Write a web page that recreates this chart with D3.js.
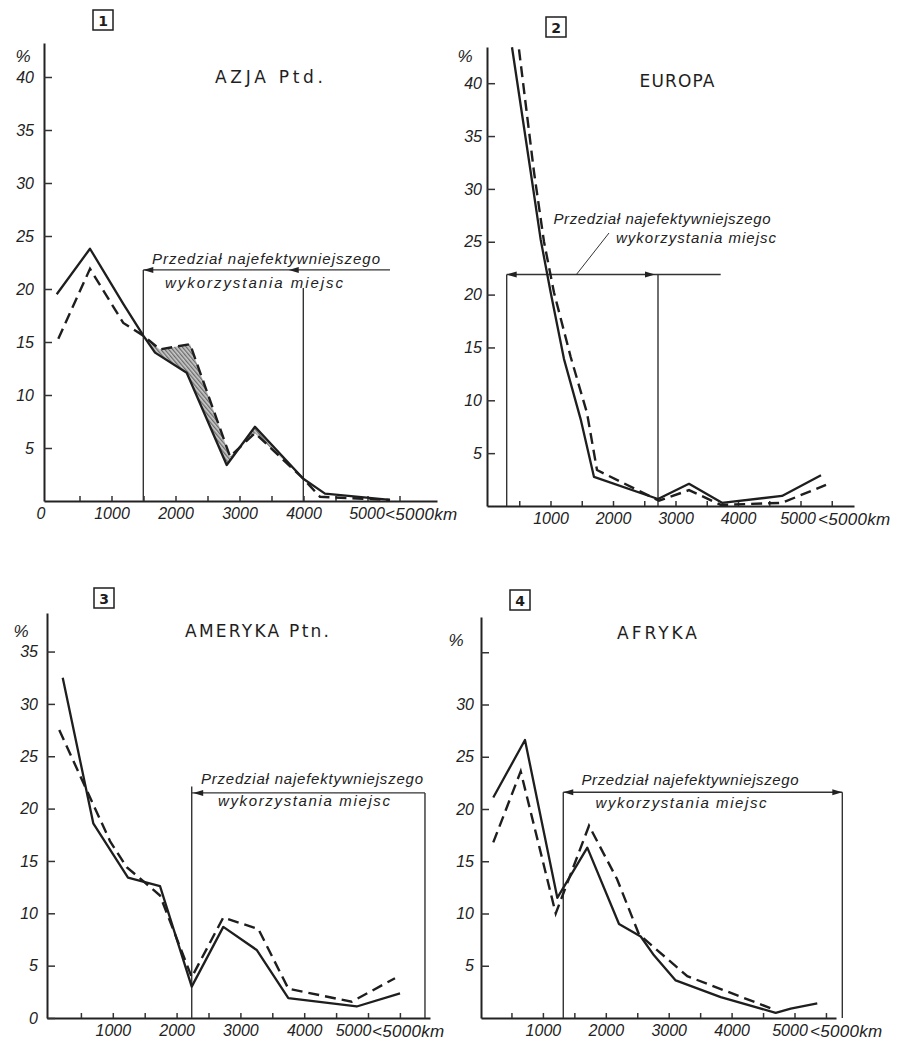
<!DOCTYPE html>
<html>
<head>
<meta charset="utf-8">
<script src="https://cdn.jsdelivr.net/npm/d3@7"></script>
<style>
  body { margin: 0; background: #fff; }
  svg { display: block; }
  .tick text { font-family: "Liberation Sans", Arial, sans-serif; font-style: italic; font-size: 16px; fill: #222; }
  .axis path.domain { stroke: #222; stroke-width: 2; }
  .axis .tick line { stroke: #333; stroke-width: 1.5; }
</style>
</head>
<body>
<div id="chart-area"></div>
<script>
// ---- DATA
var titles = ["AZJA Ptd.", "EUROPA", "AMERYKA Ptn.", "AFRYKA"];
var panelNumbers = ["1", "2", "3", "4"];
var noteLines = ["Przedział najefektywniejszego", "wykorzystania miejsc"];
var xTickKm = [500, 1000, 1500, 2000, 2500, 3000, 3500, 4000, 4500, 5000, 5500];
var xLabelKm = [1000, 2000, 3000, 4000, 5000];
var lastLabel = "<5000km";
var yTicks40 = [5, 10, 15, 20, 25, 30, 35, 40];
var yTicks35 = [0, 5, 10, 15, 20, 25, 30, 35];
var yTicksAfr = [5, 10, 15, 20, 25, 30, 35];

// 1 AZJA Ptd.
var azjaSolidKm  = [144, 664, 1184, 1497, 1680, 2175, 2800, 3242, 3997, 4336, 5352];
var azjaSolidPct = [19.5, 23.8, 18.6, 15.6, 14.0, 12.1, 3.4, 7.0, 2.1, 0.7, 0.1];
var azjaDashKm   = [169, 664, 1184, 1497, 1758, 2227, 2852, 3242, 3997, 4258, 5352];
var azjaDashPct  = [15.3, 21.9, 16.8, 15.6, 14.3, 14.8, 4.2, 6.4, 2.1, 0.4, 0.1];
var azjaInterval = [1497, 3997];

// 2 EUROPA
var eurSolidKm  = [384, 683, 843, 1003, 1216, 1483, 1696, 2720, 3216, 3744, 4704, 5328];
var eurSolidPct = [43.4, 31.6, 25.2, 20.2, 13.9, 8.2, 2.75, 0.66, 2.1, 0.3, 0.95, 2.9];
var eurDashKm   = [496, 736, 896, 1056, 1323, 1584, 1744, 2736, 3216, 3728, 4704, 5408];
var eurDashPct  = [43.2, 31.6, 25.0, 20.2, 14.1, 8.8, 3.4, 0.5, 1.5, 0.1, 0.3, 2.0];
var eurInterval = [299, 2720];

// 3 AMERYKA Ptn.
var amSolidKm  = [215, 694, 1238, 1740, 2237, 2732, 3255, 3751, 4823, 5502];
var amSolidPct = [32.5, 18.6, 13.4, 12.6, 3.0, 8.7, 6.5, 1.9, 1.1, 2.35];
var amDashKm   = [161, 956, 1218, 1473, 1740, 2237, 2732, 3281, 3751, 4745, 5423];
var amDashPct  = [27.5, 16.9, 14.4, 13.1, 11.7, 3.9, 9.6, 8.5, 2.8, 1.55, 3.8];
var amInterval = [2237, 5893];

// 4 AFRYKA
var afrSolidKm  = [211, 715, 1229, 1706, 2210, 2555, 2766, 3111, 3827, 4701, 4940, 5362];
var afrSolidPct = [21.1, 26.6, 11.5, 16.3, 9.0, 7.8, 6.0, 3.6, 2.0, 0.5, 0.9, 1.4];
var afrDashKm   = [211, 647, 1204, 1733, 2178, 2528, 3296, 4701];
var afrDashPct  = [16.8, 23.6, 10.0, 18.4, 13.3, 8.0, 4.0, 0.75];
var afrInterval = [1324, 5760];

function zip(a, b) { return a.map(function (d, i) { return [d, b[i]]; }); }

// ---- LAYOUT (pixel placement of each panel)
var panels = [
  { title: titles[0], num: panelNumbers[0], solid: zip(azjaSolidKm, azjaSolidPct), dash: zip(azjaDashKm, azjaDashPct),
    interval: azjaInterval, lineEndKm: 5352, level: 21.8, leftTop: 21.8, rightTop: 20.1, hatch: true,
    arrows: [{ km: 1497, dir: -1 }, { km: 3770, dir: -1 }], yTicks: yTicks40, yBlank: [],
    axisX: 44, x0: 47.5, k: 64, y0: 501, ppu: 10.6, top: 43, xEnd: 437, yGap: 10,
    titlePos: [269, 83, 108], box: [93, 10], pct: [23, 62], zeroX: 41, fiveDx: -1, lastX: 385,
    note: [[266, 264, 228], [254, 288, 178]] },
  { title: titles[1], num: panelNumbers[1], solid: zip(eurSolidKm, eurSolidPct), dash: zip(eurDashKm, eurDashPct),
    interval: eurInterval, lineEndKm: 3723, level: 21.9, leftTop: 21.9, rightTop: 21.9, hatch: false,
    arrows: [{ km: 299, dir: -1 }, { km: 2672, dir: 1 }], yTicks: yTicks40, yBlank: [],
    axisX: 487, x0: 488, k: 62.5, y0: 506, ppu: 10.57, top: 47, xEnd: 854, yGap: 5,
    titlePos: [677, 87, 75], box: [546, 17], pct: [465, 62], zeroX: null, fiveDx: -3, lastX: 818,
    note: [[662, 224, 217], [696, 243, 160]], leader: [609, 233, 576, 275] },
  { title: titles[2], num: panelNumbers[2], solid: zip(amSolidKm, amSolidPct), dash: zip(amDashKm, amDashPct),
    interval: amInterval, lineEndKm: 5893, level: 21.5, leftTop: 22.1, rightTop: 21.5, hatch: false,
    arrows: [{ km: 2260, dir: -1 }], yTicks: yTicks35, yBlank: [],
    axisX: 47, x0: 49, k: 63.8, y0: 1018, ppu: 10.47, top: 613, xEnd: 430, yGap: 9,
    titlePos: [257, 637, 144], box: [94, 588], pct: [21, 637], zeroX: null, fiveDx: -15, lastX: 372,
    note: [[312, 784, 222], [304, 806, 172]] },
  { title: titles[3], num: panelNumbers[3], solid: zip(afrSolidKm, afrSolidPct), dash: zip(afrDashKm, afrDashPct),
    interval: afrInterval, lineEndKm: 5760, level: 21.6, leftTop: 21.6, rightTop: 21.6, hatch: false,
    arrows: [{ km: 1324, dir: -1 }, { km: 5760, dir: 1 }], yTicks: yTicksAfr, yBlank: [35],
    axisX: 481, x0: 480, k: 62.9, y0: 1018, ppu: 10.45, top: 617, xEnd: 836, yGap: 7,
    titlePos: [657, 639, 80], box: [510, 590], pct: [456, 646], zeroX: null, fiveDx: -5, lastX: 810,
    note: [[690, 785, 217], [681, 808, 171]] }
];

var ink = "#1e1e1e";
var font = "'Liberation Sans', Arial, sans-serif";

var svg = d3.select("#chart-area")
  .append("svg")
  .attr("width", 908)
  .attr("height", 1042);

// hatch for the shaded band
var pat = svg.append("defs").append("pattern")
  .attr("id", "hatch")
  .attr("patternUnits", "userSpaceOnUse")
  .attr("width", 3).attr("height", 3)
  .attr("patternTransform", "rotate(-40)");
pat.append("rect").attr("width", 3).attr("height", 3).attr("fill", "#cacaca");
pat.append("line").attr("x1", 0.7).attr("y1", 0).attr("x2", 0.7).attr("y2", 3)
  .attr("stroke", "#5a5a5a").attr("stroke-width", 1.1);

panels.forEach(drawPanel);

function drawPanel(p) {
  var g = svg.append("g");

  // SCALES
  var x = d3.scaleLinear()
    .domain([(p.axisX - p.x0) / p.k * 1000, (p.xEnd - p.x0) / p.k * 1000])
    .range([p.axisX, p.xEnd]);
  var y = d3.scaleLinear()
    .domain([0, (p.y0 - p.top) / p.ppu])
    .range([p.y0, p.top]);

  // AXES
  var xAxis = d3.axisBottom(x)
    .tickValues(xTickKm)
    .tickSizeInner(-5).tickSizeOuter(0).tickPadding(7)
    .tickFormat(function (d) { return xLabelKm.indexOf(d) >= 0 ? d : ""; });
  g.append("g").attr("class", "axis")
    .attr("transform", "translate(0," + p.y0 + ")")
    .call(xAxis)
    .selectAll(".tick text")
    .attr("dx", function (d) { return d === 5000 ? p.fiveDx : 0; });

  var yAxis = d3.axisLeft(y)
    .tickValues(p.yTicks)
    .tickSizeInner(-8).tickSizeOuter(0).tickPadding(p.yGap)
    .tickFormat(function (d) { return p.yBlank.indexOf(d) >= 0 ? "" : d; });
  g.append("g").attr("class", "axis")
    .attr("transform", "translate(" + p.axisX + ",0)")
    .call(yAxis);

  // x labels extra: "0" and "<5000km"
  if (p.zeroX !== null) {
    g.append("text").attr("x", p.zeroX).attr("y", p.y0 + 7).attr("dy", "0.71em")
      .attr("text-anchor", "middle").attr("font-family", font).attr("font-style", "italic")
      .attr("font-size", "16px").attr("fill", "#222").text("0");
  }
  g.append("text").attr("x", p.lastX).attr("y", p.y0 + 7).attr("dy", "0.71em")
    .attr("font-family", font).attr("font-style", "italic")
    .attr("font-size", "17px").attr("letter-spacing", "0.3px").attr("fill", "#222")
    .text(lastLabel);

  // "%" label
  g.append("text").attr("x", p.pct[0]).attr("y", p.pct[1])
    .attr("text-anchor", "middle").attr("font-family", font).attr("font-style", "italic")
    .attr("font-size", "17px").attr("fill", "#222").text("%");

  // number box
  g.append("rect").attr("x", p.box[0]).attr("y", p.box[1])
    .attr("width", 20).attr("height", 20)
    .attr("fill", "none").attr("stroke", ink).attr("stroke-width", 1.5);
  g.append("text").attr("x", p.box[0] + 10).attr("y", p.box[1] + 16)
    .attr("text-anchor", "middle").attr("font-family", "'DejaVu Sans', sans-serif")
    .attr("font-size", "14px").attr("font-weight", "bold").attr("fill", ink).text(p.num);

  // title
  g.append("text").attr("x", p.titlePos[0]).attr("y", p.titlePos[1])
    .attr("text-anchor", "middle").attr("font-family", "'DejaVu Sans', sans-serif")
    .attr("font-size", "17px").attr("fill", ink)
    .attr("textLength", p.titlePos[2]).attr("lengthAdjust", "spacing")
    .text(p.title);

  // interval of most effective use
  var lx = x(p.interval[0]), rx = x(p.interval[1]), ly = y(p.level);
  var thin = g.append("g").attr("stroke", "#333").attr("stroke-width", 1.4).attr("fill", "none");
  thin.append("line").attr("x1", lx).attr("x2", lx).attr("y1", y(p.leftTop)).attr("y2", p.y0);
  thin.append("line").attr("x1", rx).attr("x2", rx).attr("y1", y(p.rightTop)).attr("y2", p.y0);
  thin.append("line").attr("x1", lx).attr("x2", x(p.lineEndKm)).attr("y1", ly).attr("y2", ly);
  if (p.leader) {
    thin.append("line").attr("x1", p.leader[0]).attr("y1", p.leader[1])
      .attr("x2", p.leader[2]).attr("y2", p.leader[3]).attr("stroke-width", 1);
  }
  p.arrows.forEach(function (a) {
    var tx = x(a.km);
    g.append("path")
      .attr("d", "M" + tx + "," + ly + "L" + (tx - a.dir * 10) + "," + (ly - 3) +
                 "L" + (tx - a.dir * 10) + "," + (ly + 3) + "Z")
      .attr("fill", "#222");
  });

  // note text
  noteLines.forEach(function (t, i) {
    g.append("text").attr("x", p.note[i][0]).attr("y", p.note[i][1])
      .attr("text-anchor", "middle").attr("font-family", font).attr("font-style", "italic")
      .attr("font-size", "15px").attr("fill", "#222")
      .attr("textLength", p.note[i][2]).attr("lengthAdjust", "spacing")
      .text(t);
  });

  var line = d3.line()
    .x(function (d) { return x(d[0]); })
    .y(function (d) { return y(d[1]); });

  // hatched band between the two curves inside the interval
  if (p.hatch) {
    var inRange = function (d) { return d[0] >= p.interval[0] && d[0] <= p.interval[1]; };
    var band = p.solid.filter(inRange).concat(p.dash.filter(inRange).reverse());
    g.append("path").datum(band)
      .attr("d", function (d) { return line(d) + "Z"; })
      .attr("fill", "url(#hatch)").attr("stroke", "none");
  }

  // series
  g.append("path").datum(p.solid)
    .attr("d", line).attr("fill", "none")
    .attr("stroke", ink).attr("stroke-width", 2.3).attr("stroke-linejoin", "round");
  g.append("path").datum(p.dash)
    .attr("d", line).attr("fill", "none")
    .attr("stroke", ink).attr("stroke-width", 2.4)
    .attr("stroke-dasharray", "11,6");
}
</script>
</body>
</html>
